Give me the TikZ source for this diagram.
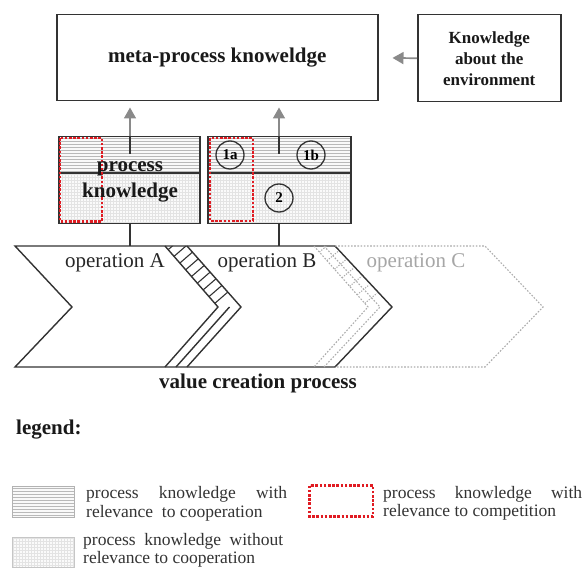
\documentclass[tikz,border=0pt]{standalone}
\usepackage{fontspec}
\setmainfont{Liberation Serif}
\usetikzlibrary{arrows.meta,calc}
\definecolor{frame}{HTML}{333333}
\definecolor{arrowgray}{HTML}{8A8A8A}
\definecolor{compred}{HTML}{E01B22}

% light horizontal ruling: x1, y1, x2, y2
\newcommand\pkruled[4]{%
  \fill[gray!5] (#1,#2) rectangle (#3,#4);
  \begin{scope}
    \clip (#1,#2) rectangle (#3,#4);
    \foreach \d in {2,5,...,80} {\draw[gray!55,line width=0.45pt] (#1,#2+\d) -- (#3,#2+\d);}
  \end{scope}}
% very light dotted grid: x1, y1, x2, y2
\newcommand\pkgridded[4]{%
  \fill[gray!4] (#1,#2) rectangle (#3,#4);
  \begin{scope}
    \clip (#1,#2) rectangle (#3,#4);
    \foreach \d in {1.5,4.5,...,160} {\draw[gray!22,line width=0.3pt] (#1+\d,#2) -- (#1+\d,#4);}
    \foreach \d in {1.5,4.5,...,80} {\draw[gray!22,line width=0.3pt] (#1,#2+\d) -- (#3,#2+\d);}
  \end{scope}}

\begin{document}
\begin{tikzpicture}[x=1pt,y=-1pt,
  box/.style={draw=frame,line width=1.5pt,inner sep=0pt,anchor=north west},
  garrow/.style={draw=arrowgray,line width=1.7pt,-{Triangle[length=11pt,width=12pt]}},
  link/.style={draw=frame,line width=1.4pt},
  thinlink/.style={draw=frame,line width=1.1pt},
  compbox/.style={draw=compred,line width=2.2pt,dash pattern=on 2.6pt off 1.6pt},
  cdot/.style={draw=gray!65,line width=1.1pt,dash pattern=on 1.6pt off 1.6pt},
  numc/.style={circle,draw=frame,line width=1.3pt,minimum size=28pt,inner sep=0pt,
    font=\fontsize{15}{15}\selectfont\bfseries},
  optext/.style={font=\fontsize{21}{21}\selectfont,text=black!85},
  bigbold/.style={font=\fontsize{21}{21}\selectfont\bfseries,text=black!90},
  legtext/.style={font=\fontsize{17.5}{19}\selectfont,text=black!80,anchor=base west,inner sep=0pt},
  legbox/.style={draw=gray!60,line width=1.2pt},
]
\useasboundingbox (0,0) rectangle (584,569);

% ---- top boxes ----
\node[box,minimum width=321pt,minimum height=86pt] (meta) at (56,14) {};
\node[bigbold] (metatext) at (meta.center) {meta-process knoweldge};
\node[box,minimum width=143pt,minimum height=87pt] (env) at (417,14) {};
\node[font=\fontsize{17}{21}\selectfont\bfseries,align=center,text=black!90] (envtext) at (env.center) {Knowledge\\about the\\environment};

% ---- process knowledge boxes ----
\pkruled{58}{136}{199}{173}
\pkgridded{58}{173}{199}{223}
\pkruled{207}{136}{350}{173}
\pkgridded{207}{173}{350}{223}
\node[box,minimum width=141pt,minimum height=87pt] (pkA) at (58,136) {};
\node[box,minimum width=143pt,minimum height=87pt] (pkB) at (207,136) {};
\draw[thinlink] (pkA.west |- 0,173) -- (pkA.east |- 0,173);
\draw[thinlink] (pkB.west |- 0,173) -- (pkB.east |- 0,173);

\draw[compbox] (60,138) rectangle (102,221.5);
\draw[compbox] (210,138) rectangle (253,221);

\node[numc] (c1a) at (230,155) {1a};
\node[numc] (c1b) at (311,155) {1b};
\node[numc] (c2) at (279,198) {2};

% upward arrows to the meta level
\coordinate (aA) at (130,154);
\coordinate (aB) at (279,154);
\draw[thinlink] (aA) -- (aA |- pkA.north);
\draw[thinlink] (aB) -- (aB |- pkB.north);
\draw[garrow,shorten >=6pt] (aA |- pkA.north) -- (aA |- meta.south);
\draw[garrow,shorten >=6pt] (aB |- pkB.north) -- (aB |- meta.south);
\draw[garrow,shorten >=14pt] (env.west) -- (meta.east);

\node[bigbold,align=center,font=\fontsize{21}{26}\selectfont\bfseries] (pktext) at (130,182) {process\\knowledge};

% ---- value creation chain ----
\coordinate (ctop) at (0,246);
\coordinate (cbot) at (0,367);
\draw[link,line join=miter] (15,246) -- (335,246) -- (392,307) -- (335,367) -- (15,367) -- (72,307) -- cycle;
% overlap band between operation A and B
\begin{scope}
  \clip (165,246) -- (187,246) -- (241,307) -- (218,307) -- cycle;
  \foreach \t in {0.06,0.17,...,1.0}
    {\draw[thinlink] ($(165,246)+\t*(53,61)$) -- ++(34,-29.5);}
\end{scope}
\draw[link] (165,246) -- (218,307) -- (165,367);
\draw[link] (187,246) -- (241,307) -- (187,367);
\draw[link] (229.5,307) -- (176,367);

% operation C (planned, dotted)
\draw[cdot] (335,246) -- (485,246) -- (543,307) -- (485,367) -- (335,367);
\draw[cdot] (314,246) -- (368,307) -- (314,367);
\draw[cdot] (324,246) -- (380,307) -- (324,367);
\begin{scope}
  \clip (314,246) -- (335,246) -- (385,300) -- (368,307) -- cycle;
  \foreach \t in {0.1,0.24,...,1.0}
    {\draw[cdot,dash pattern=on 1.2pt off 1.4pt] ($(314,246)+\t*(54,61)$) -- ++(12,-10);}
\end{scope}

% connectors from knowledge boxes to operations
\draw[link] (aA |- pkA.south) -- (aA |- ctop);
\draw[link] (aB |- pkB.south) -- (aB |- ctop);

\node[optext] (opA) at (115,263) {operation A};
\node[optext] (opB) at (267,263) {operation B};
\node[optext,text=gray!70] (opC) at (416,263) {operation C};
\node[bigbold] (vcp) at (258,383) {value creation process};

% ---- legend ----
\node[bigbold,anchor=base west,inner sep=0pt] (leg) at (16,435) {legend:};

\pkruled{12}{486}{74}{517}
\node[legbox,anchor=north west,minimum width=62pt,minimum height=31pt,inner sep=0pt] (lg1) at (12,486) {};
\node[legtext] (lg1a) at (86,498) {\makebox[201pt][s]{process knowledge with}};
\node[legtext] (lg1b) at (86,517) {relevance\ \ to cooperation};

\pkgridded{12}{537}{74}{567}
\node[legbox,draw=gray!45,anchor=north west,minimum width=62pt,minimum height=30pt,inner sep=0pt] (lg2) at (12,537) {};
\node[legtext] (lg2a) at (83,545) {\makebox[200pt][s]{process knowledge without}};
\node[legtext] (lg2b) at (83,563) {relevance to cooperation};

\draw[compbox] (309.5,485.5) rectangle (373,516.5);
\coordinate (lg3) at (309,485);
\node[legtext] (lg3a) at (383,498) {\makebox[199pt][s]{process knowledge with}};
\node[legtext] (lg3b) at (383,516) {relevance to competition};
\end{tikzpicture}
\end{document}
